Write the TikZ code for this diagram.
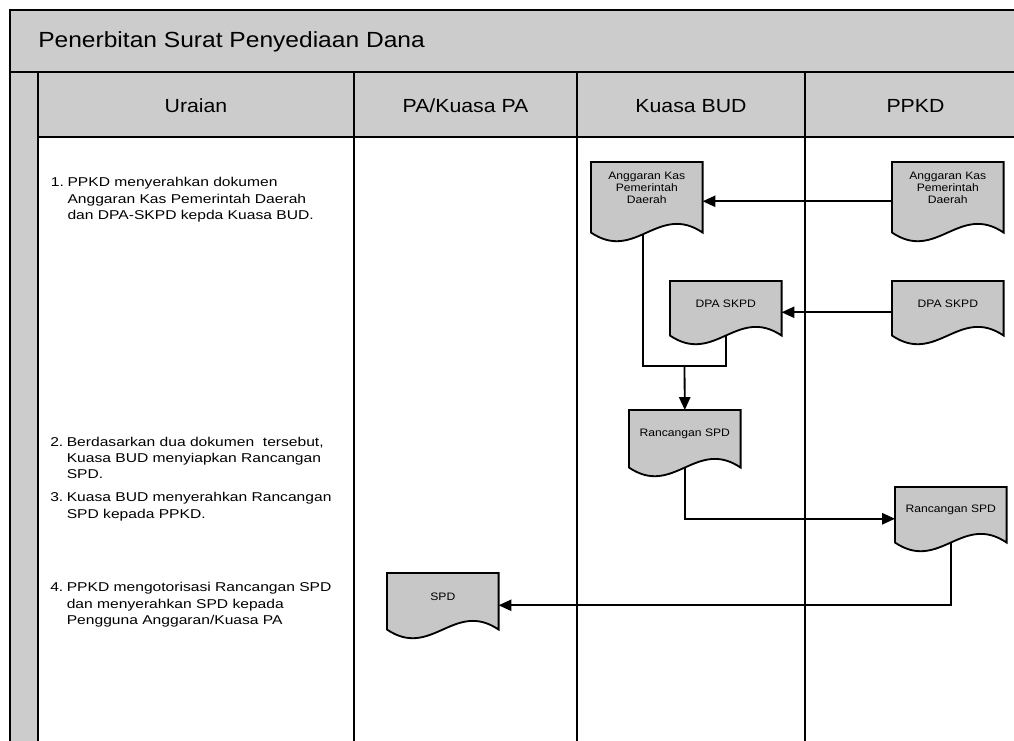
\documentclass[tikz,border=0pt]{standalone}
\usepackage{fontspec}
\setmainfont{Liberation Sans}[FakeStretch=1.12]
\newfontfamily\uraianfont{Liberation Sans}[FakeStretch=1.22]
\usetikzlibrary{arrows.meta}

\definecolor{lajur}{gray}{0.80}
\definecolor{dokfill}{gray}{0.78}

\pgfdeclarelayer{latar}
\pgfdeclarelayer{garis}
\pgfsetlayers{latar,garis,main}

\tikzset{
  docbox/.style={minimum width=2.775cm, inner sep=0pt, anchor=north west},
  docline/.style={fill=dokfill, draw=black, line width=1.3pt},
  doctext/.style={align=center, inner sep=0pt, font=\fontsize{7.7}{8.5}\selectfont},
  lane/.style={anchor=base, font=\fontsize{13.5}{15}\selectfont},
  uraian/.style={anchor=base west, inner sep=0pt, font=\uraianfont\fontsize{9.1}{11.7}\selectfont},
  link/.style={line width=1.3pt},
}

% document shape: name, left, top, height to the wave, text
\newcommand{\Dokumen}[6][0.225cm]{%
  \node[docbox, minimum height={(#5+8)*0.025cm}] (#2) at (#3,#4) {};
  \filldraw[docline] (#2.north west) -- (#2.north east)
    -- ([yshift=0.2cm]#2.south east)
    .. controls ([xshift=-1.11cm,yshift=0.95cm]#2.south east)
    and ([xshift=1.11cm,yshift=-0.55cm]#2.south west)
    .. ([yshift=0.2cm]#2.south west) -- cycle;
  \node[doctext] (#2-t) at ([yshift=#1]#2.center) {#6};
}

\begin{document}
\begin{tikzpicture}[x=0.025cm, y=-0.025cm, >={Triangle[length=0.32cm, width=0.28cm]}]
  \useasboundingbox (0,0) rectangle (1014,741);
  \begin{pgfonlayer}{latar}
    \fill[white] (0,0) rectangle (1014,741);
    \fill[lajur] (10,10) rectangle (1030,72);
    \fill[lajur] (10,72) rectangle (38,760);
    \fill[lajur] (38,72) rectangle (1030,137);
    \draw[line width=1.3pt] (1030,10) -- (10,10) -- (10,760);
    \draw[line width=1.3pt] (10,72) -- (1030,72);
    \draw[line width=1pt] (38,72) -- (38,760);
    \draw[line width=1pt] (38,137) -- (1030,137);
    \foreach \x in {354,577,805}
      \draw[line width=0.8pt] (\x,72) -- (\x,760);
  \end{pgfonlayer}

  \node[anchor=base west, inner sep=0pt, font=\fontsize{15.6}{18}\selectfont] (judul) at (38,47.7) {Penerbitan Surat Penyediaan Dana};
  \node[lane] (uraian) at (196,112.5) {Uraian};
  \node[lane] (pa) at (465.5,112.5) {PA/Kuasa PA};
  \node[lane] (bud) at (691,112.5) {Kuasa BUD};
  \node[lane] (ppkd) at (915.5,112.5) {PPKD};

  \node[uraian] (langkah1) at (50.7,187) {\begin{tabular}[t]{@{}l@{\hspace{2.5pt}}l@{}}1. & PPKD menyerahkan dokumen\\ & Anggaran Kas Pemerintah Daerah\\ & dan DPA-SKPD kepda Kuasa BUD.\end{tabular}};
  \node[uraian] (langkah2) at (50,446) {\begin{tabular}[t]{@{}l@{\hspace{2.5pt}}l@{}}2. & Berdasarkan dua dokumen~ tersebut,\\ & Kuasa BUD menyiapkan Rancangan\\ & SPD.\end{tabular}};
  \node[uraian] (langkah3) at (50,501.7) {\begin{tabular}[t]{@{}l@{\hspace{2.5pt}}l@{}}3. & Kuasa BUD menyerahkan Rancangan\\ & SPD kepada PPKD.\end{tabular}};
  \node[uraian] (langkah4) at (50,591.7) {\begin{tabular}[t]{@{}l@{\hspace{2.5pt}}l@{}}4. & PPKD mengotorisasi Rancangan SPD\\ & dan menyerahkan SPD kepada\\ & Pengguna Anggaran/Kuasa PA\end{tabular}};

  \Dokumen[0.325cm]{akBud}{591}{162}{70}{Anggaran Kas\\Pemerintah\\Daerah}
  \Dokumen[0.325cm]{akPpkd}{892}{162}{70}{Anggaran Kas\\Pemerintah\\Daerah}
  \Dokumen{dpaBud}{670}{281}{54}{DPA SKPD}
  \Dokumen{dpaPpkd}{892}{281}{54}{DPA SKPD}
  \Dokumen{rancBud}{629}{410}{57}{Rancangan SPD}
  \Dokumen{rancPpkd}{895}{487}{55}{Rancangan SPD}
  \Dokumen{spd}{387}{573}{56}{SPD}

  \begin{pgfonlayer}{garis}
    \draw[link,->] (akPpkd.west) -- (akBud.east);
    \draw[link,->] (dpaPpkd.west) -- (dpaBud.east);
    \coordinate (gabung) at (684.5,366);
    \draw[link] ([xshift=-0.09cm]akBud.center) |- (gabung);
    \draw[link] (dpaBud.center) |- (gabung);
    \draw[link,->] (gabung) -- (rancBud.north);
    \draw[link,->] (rancBud.center) |- (rancPpkd.west);
    \draw[link,->] (rancPpkd.center) |- (spd.east);
  \end{pgfonlayer}
\end{tikzpicture}
\end{document}
